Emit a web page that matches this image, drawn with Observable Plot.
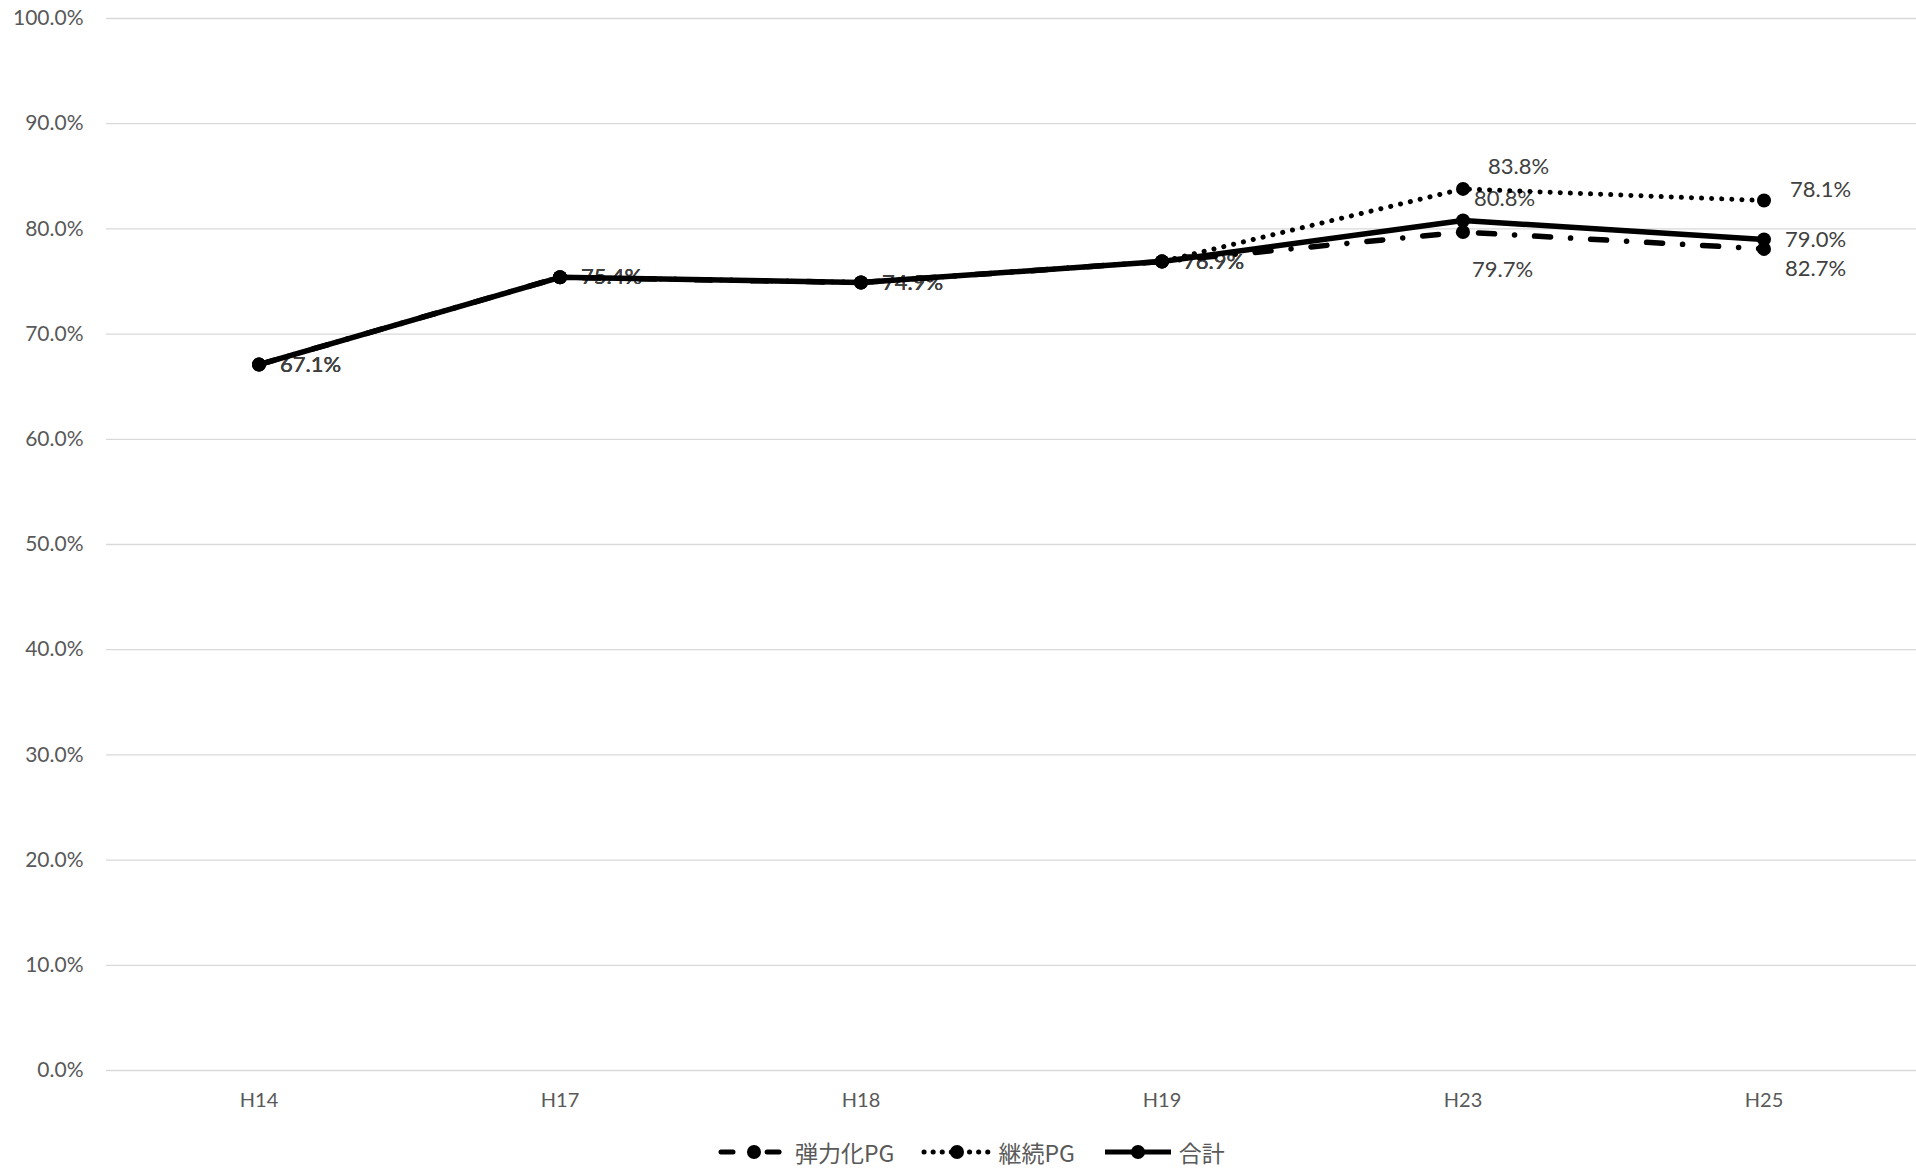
<!DOCTYPE html>
<html>
<head>
<meta charset="utf-8">
<script src="https://cdn.jsdelivr.net/npm/d3@7"></script>
<script src="https://cdn.jsdelivr.net/npm/@observablehq/plot@0.6"></script>
<style>
  html, body { margin: 0; padding: 0; background: #fff; }
  #chart svg { display: block; }
  #legend { display: flex; justify-content: flex-start; align-items: center; height: 64px; padding-left: 718px;
    font-family: "Noto Sans CJK JP", sans-serif; font-size: 23px; color: #595959; }
  .item { display: flex; align-items: center; margin-right: 27px; }
  .item svg { margin-right: 5px; }
</style>
</head>
<body>
<div id="chart"></div>
<div id="legend"></div>
<script>
const categories = ["H14", "H17", "H18", "H19", "H23", "H25"];
const seriesNames = ["弾力化PG", "継続PG", "合計"];
const flexValues = [67.1, 75.4, 74.9, 76.9, 79.7, 78.1];
const contValues = [67.1, 75.4, 74.9, 76.9, 83.8, 82.7];
const totalValues = [67.1, 75.4, 74.9, 76.9, 80.8, 79.0];
const flexLabels = ["67.1%", "75.4%", "74.9%", "76.9%", "79.7%", "82.7%"];
const contLabels = ["67.1%", "75.4%", "74.9%", "76.9%", "83.8%", "78.1%"];
const totalLabels = ["67.1%", "75.4%", "74.9%", "76.9%", "80.8%", "79.0%"];
const yTicks = [0, 10, 20, 30, 40, 50, 60, 70, 80, 90, 100];

const mk = (vals, labels, name) => categories.map((c, i) => ({cat: c, value: vals[i], label: labels[i], series: name, i}));
const flex = mk(flexValues, flexLabels, seriesNames[0]);
const cont = mk(contValues, contLabels, seriesNames[1]);
const total = mk(totalValues, totalLabels, seriesNames[2]);

const styles = {
  [seriesNames[0]]: {strokeWidth: 5.5, strokeDasharray: "16 20 0.1 20", strokeLinecap: "round"},
  [seriesNames[1]]: {strokeWidth: 5, strokeDasharray: "0.1 10", strokeLinecap: "round"},
  [seriesNames[2]]: {strokeWidth: 5.5}
};

const labelFont = {fontFamily: "Lato, sans-serif", fontSize: 22, fill: "#404040", textAnchor: "start"};
const lbl = (data, filter, dx, dy) => Plot.text(data.filter(filter), {x: "cat", y: "value", text: "label", dx, dy, ...labelFont});

const early = d => d.i < 4;
const marks = [
  Plot.gridY(yTicks, {stroke: "#d9d9d9", strokeOpacity: 1, strokeWidth: 1.3}),
  lbl(flex, early, 21, 0), lbl(cont, early, 21, 0), lbl(total, early, 21, 0),
  lbl(flex, d => d.cat === "H23", 9, 38),
  lbl(flex, d => d.cat === "H25", 21, 20),
  lbl(cont, d => d.cat === "H23", 25, -22),
  lbl(cont, d => d.cat === "H25", 26, -11),
  lbl(total, d => d.cat === "H23", 11, -22),
  lbl(total, d => d.cat === "H25", 21, 1),
];
for (const s of [flex, cont, total]) {
  marks.push(Plot.line(s, {x: "cat", y: "value", stroke: "#000", ...styles[s[0].series]}));
  marks.push(Plot.dot(s, {x: "cat", y: "value", r: 7, fill: "#000", stroke: "none"}));
}
marks.push(Plot.axisY(yTicks, {tickSize: 0, tickPadding: 23, tickFormat: d => d.toFixed(1) + "%",
  fontFamily: "Lato, sans-serif", fontSize: 21, fill: "#595959", label: null}));
marks.push(Plot.axisX({tickSize: 0, tickPadding: 22, fontFamily: "Lato, sans-serif", fontSize: 20, fill: "#595959", label: null}));

const chart = Plot.plot({
  width: 1916, height: 1120,
  marginLeft: 106, marginRight: 0, marginTop: 18, marginBottom: 50,
  x: {type: "band", domain: categories, padding: 0, align: 0.5},
  y: {domain: [0, 100]},
  marks
});
document.getElementById("chart").appendChild(chart);

const legend = document.getElementById("legend");
seriesNames.forEach(name => {
  const item = document.createElement("div");
  item.className = "item";
  const w = 72;
  const dash = name === seriesNames[0] ? 'stroke-dasharray="12 17 0.1 17" stroke-linecap="round"'
             : name === seriesNames[1] ? 'stroke-dasharray="0.1 9" stroke-linecap="round"' : '';
  item.innerHTML = `<svg width="${w}" height="20"><line x1="3" x2="${w-3}" y1="10" y2="10" stroke="#000" stroke-width="5" ${dash}/><circle cx="${w/2}" cy="10" r="7" fill="#000"/></svg><span>${name}</span>`;
  legend.appendChild(item);
});
</script>
</body>
</html>
